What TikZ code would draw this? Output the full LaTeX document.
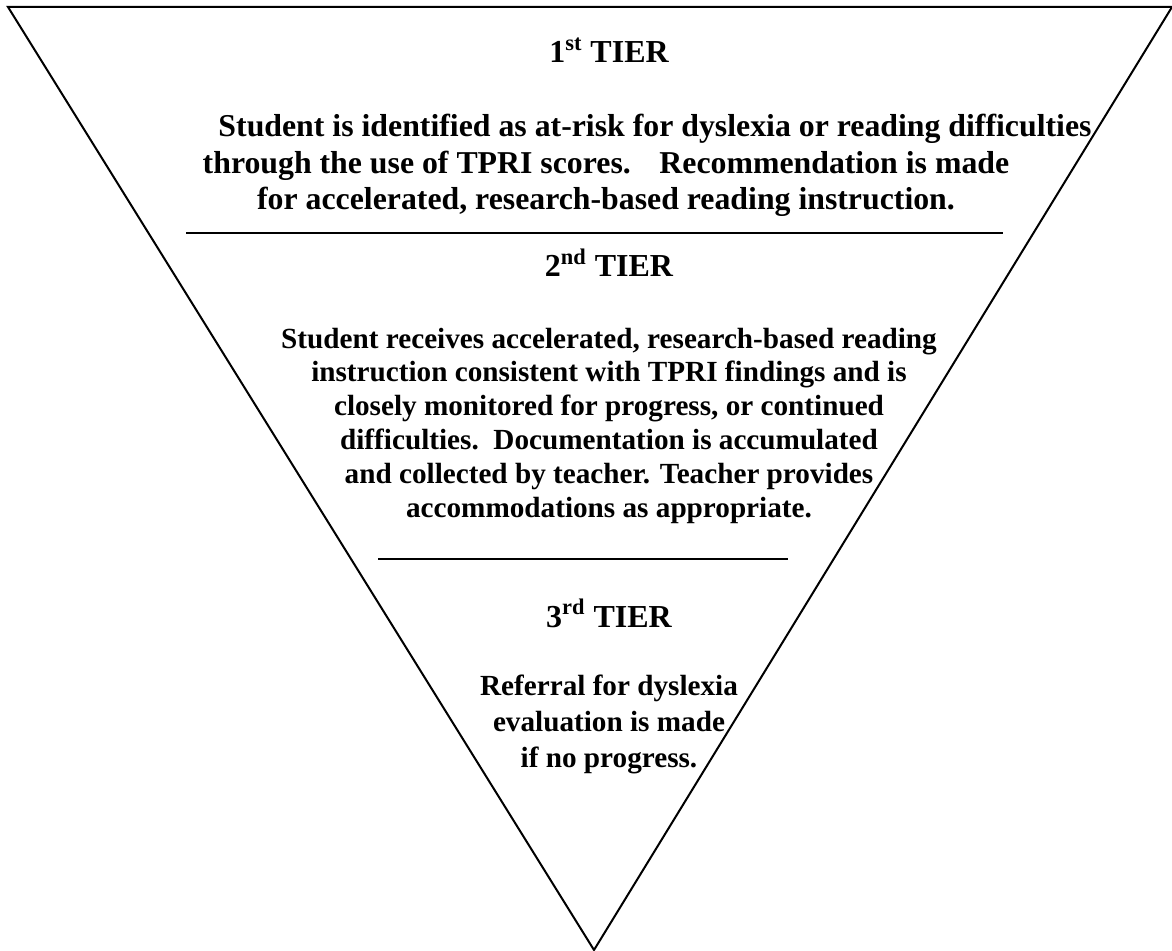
\documentclass[tikz,border=0pt]{standalone}
\usepackage{fontspec}
\setmainfont{Liberation Serif}
\begin{document}
\begin{tikzpicture}[
  x=0.5pt, y=-0.5pt,
  edge/.style={draw, line width=1pt},
  tierhead/.style={anchor=base, inner sep=0pt, font=\bfseries\fontsize{16}{18}\selectfont},
  tiertext/.style={anchor=base, inner sep=0pt, align=center, font=\bfseries\fontsize{14.6}{16.9}\selectfont},
]
  \useasboundingbox (0,0) rectangle (1172,951);

  % corners of the funnel
  \coordinate (tl) at (8,7);
  \coordinate (tr) at (1172,7);
  \coordinate (apex) at (594,950);
  \draw[edge, line join=miter] (tl) -- (tr) -- (apex) -- cycle;

  % rules between the tiers
  \coordinate (r1a) at (186,233);
  \coordinate (r1b) at (1003,233);
  \coordinate (r2a) at (378,559);
  \coordinate (r2b) at (788,559);
  \draw[edge] (r1a) -- (r1b);
  \draw[edge] (r2a) -- (r2b);

  % tier 1 (text placed by its last line)
  \node[tierhead] (head1) at (609,63) {1\textsuperscript{st} TIER};
  \node[tiertext, font=\bfseries\fontsize{15.9}{18.25}\selectfont] (text1) at (606,210)
    {\hspace*{49pt}Student is identified as at-risk for dyslexia or reading difficulties\\
     through the use of TPRI scores.\hspace{0.9em}Recommendation is made\\
     for accelerated, research-based reading instruction.};

  % tier 2
  \node[tierhead] (head2) at (609,277) {2\textsuperscript{nd} TIER};
  \node[tiertext] (text2) at (609,517)
    {Student receives accelerated, research-based reading\\
     instruction consistent with TPRI findings and is\\
     closely monitored for progress, or continued\\
     difficulties.\hspace{0.5em}Documentation is accumulated\\
     and collected by teacher. Teacher provides\\
     accommodations as appropriate.};

  % tier 3
  \node[tierhead] (head3) at (609,627) {3\textsuperscript{rd} TIER};
  \node[tiertext, font=\bfseries\fontsize{14.6}{18}\selectfont] (text3) at (609,767)
    {Referral for dyslexia\\
     evaluation is made\\
     if no progress.};
\end{tikzpicture}
\end{document}
